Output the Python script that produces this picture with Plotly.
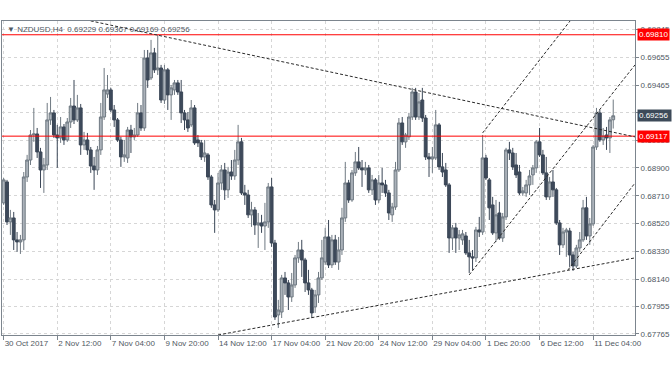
import plotly.graph_objects as go

# ---------------- data ----------------
symbol = "NZDUSD,H4"

open_ = [
    0.68661, 0.68804, 0.68531, 0.68558, 0.68408, 0.68394, 0.68408, 0.68838, 0.68954, 0.69125,
    0.69132, 0.69009, 0.68886, 0.68920, 0.69228, 0.69276, 0.69125, 0.69105, 0.69180, 0.69091,
    0.69214, 0.69323, 0.69228, 0.69310, 0.69057, 0.69091, 0.69023, 0.68913, 0.68886, 0.69023,
    0.69248, 0.69405, 0.69433, 0.69296, 0.69228, 0.69091, 0.68975, 0.68968, 0.69159, 0.69112,
    0.69125, 0.69276, 0.69173, 0.69651, 0.69515, 0.69686, 0.69570, 0.69583, 0.69364, 0.69570,
    0.69399, 0.69433, 0.69481, 0.69419, 0.69276, 0.69228, 0.69194, 0.69310, 0.69091, 0.69071,
    0.68975, 0.68989, 0.68838, 0.68647, 0.68613, 0.68797, 0.68886, 0.68750, 0.68872, 0.68845,
    0.68954, 0.69078, 0.68729, 0.68715, 0.68579, 0.68613, 0.68510, 0.68524, 0.68503, 0.68531,
    0.68770, 0.68387, 0.67895, 0.67915, 0.68148, 0.68114, 0.68018, 0.68100, 0.68285, 0.68339,
    0.68271, 0.68114, 0.68066, 0.67950, 0.68032, 0.68148, 0.68257, 0.68428, 0.68237, 0.68408,
    0.68257, 0.68339, 0.68558, 0.68797, 0.68681, 0.68866, 0.68941, 0.68900, 0.68886, 0.68900,
    0.68750, 0.68818, 0.68681, 0.68797, 0.68784, 0.68729, 0.68579, 0.68633, 0.68886, 0.69207,
    0.69078, 0.69112, 0.69248, 0.69419, 0.69248, 0.69364, 0.69241, 0.68975, 0.68961, 0.68968,
    0.69194, 0.68907, 0.68886, 0.68784, 0.68421, 0.68490, 0.68421, 0.68408, 0.68435, 0.68319,
    0.68292, 0.68285, 0.68476, 0.68462, 0.68968, 0.68818, 0.68647, 0.68456, 0.68592, 0.68421,
    0.68565, 0.69023, 0.69002, 0.68920, 0.68872, 0.68729, 0.68729, 0.68784, 0.68852, 0.68900,
    0.69078, 0.68989, 0.68866, 0.68702, 0.68804, 0.68750, 0.68524, 0.68374, 0.68462, 0.68469,
    0.68305, 0.68230, 0.68353, 0.68408, 0.68627, 0.68435, 0.68517, 0.69043, 0.69276, 0.69091,
    0.69125, 0.69105, 0.69229,
]

high_ = [
    0.68831, 0.68818, 0.68613, 0.68599, 0.68462, 0.68442, 0.68872, 0.68989, 0.69159, 0.69310,
    0.69173, 0.69037, 0.68968, 0.69344, 0.69385, 0.69296, 0.69194, 0.69248, 0.69200, 0.69241,
    0.69378, 0.69501, 0.69399, 0.69337, 0.69146, 0.69139, 0.69043, 0.68975, 0.69050, 0.69344,
    0.69583, 0.69535, 0.69447, 0.69330, 0.69241, 0.69112, 0.69091, 0.69180, 0.69194, 0.69173,
    0.69344, 0.69330, 0.69706, 0.69706, 0.69775, 0.69720, 0.69809, 0.69604, 0.69604, 0.69583,
    0.69467, 0.69501, 0.69501, 0.69501, 0.69296, 0.69282, 0.69364, 0.69330, 0.69125, 0.69091,
    0.69091, 0.69002, 0.68852, 0.68681, 0.68866, 0.68920, 0.68934, 0.68907, 0.68954, 0.69023,
    0.69194, 0.69105, 0.68784, 0.68750, 0.68668, 0.68633, 0.68592, 0.68579, 0.68661, 0.68797,
    0.68831, 0.68408, 0.67998, 0.68169, 0.68189, 0.68134, 0.68182, 0.68305, 0.68394, 0.68408,
    0.68285, 0.68203, 0.68080, 0.68066, 0.68189, 0.68408, 0.68490, 0.68544, 0.68442, 0.68442,
    0.68428, 0.68627, 0.68941, 0.68818, 0.68886, 0.69009, 0.69043, 0.68954, 0.68941, 0.68920,
    0.68852, 0.68831, 0.68852, 0.68900, 0.68818, 0.68750, 0.68661, 0.68941, 0.69241, 0.69248,
    0.69139, 0.69276, 0.69447, 0.69447, 0.69412, 0.69447, 0.69262, 0.69002, 0.69043, 0.69296,
    0.69207, 0.69002, 0.68934, 0.68797, 0.68510, 0.68524, 0.68476, 0.68476, 0.68462, 0.68408,
    0.68339, 0.68497, 0.68565, 0.69125, 0.68989, 0.68831, 0.68702, 0.68681, 0.68668, 0.68592,
    0.69037, 0.69078, 0.69037, 0.69002, 0.68920, 0.68770, 0.68818, 0.68886, 0.68920, 0.69091,
    0.69173, 0.69023, 0.68975, 0.68838, 0.68886, 0.68763, 0.68544, 0.68490, 0.68490, 0.68490,
    0.68326, 0.68374, 0.68462, 0.68681, 0.68702, 0.68558, 0.69057, 0.69310, 0.69296, 0.69173,
    0.69180, 0.69248, 0.69367,
]

low_ = [
    0.68647, 0.68510, 0.68442, 0.68339, 0.68326, 0.68312, 0.68339, 0.68804, 0.68920, 0.69078,
    0.68968, 0.68763, 0.68729, 0.68886, 0.69194, 0.69105, 0.68900, 0.69071, 0.69057, 0.69078,
    0.69173, 0.69200, 0.69214, 0.68989, 0.69023, 0.68989, 0.68866, 0.68750, 0.68852, 0.68989,
    0.69228, 0.69378, 0.69282, 0.69180, 0.69078, 0.68907, 0.68941, 0.68934, 0.69002, 0.69091,
    0.69112, 0.69153, 0.69153, 0.69447, 0.69501, 0.69549, 0.69535, 0.69344, 0.69337, 0.69296,
    0.69228, 0.69399, 0.69399, 0.69207, 0.69159, 0.69146, 0.69180, 0.69057, 0.69043, 0.68954,
    0.68941, 0.68818, 0.68627, 0.68456, 0.68599, 0.68750, 0.68681, 0.68695, 0.68818, 0.68818,
    0.68920, 0.68715, 0.68647, 0.68558, 0.68497, 0.68442, 0.68353, 0.68456, 0.68339, 0.68490,
    0.68360, 0.67861, 0.67806, 0.67874, 0.68032, 0.67929, 0.67984, 0.68080, 0.68251, 0.68155,
    0.68052, 0.68032, 0.67874, 0.67909, 0.67977, 0.68134, 0.68237, 0.68216, 0.68216, 0.68237,
    0.68203, 0.68305, 0.68531, 0.68661, 0.68668, 0.68845, 0.68886, 0.68770, 0.68852, 0.68729,
    0.68715, 0.68647, 0.68661, 0.68729, 0.68702, 0.68544, 0.68531, 0.68613, 0.68872, 0.69057,
    0.69037, 0.69091, 0.69228, 0.69228, 0.69228, 0.69214, 0.68954, 0.68838, 0.68866, 0.68954,
    0.68886, 0.68838, 0.68770, 0.68319, 0.68339, 0.68319, 0.68339, 0.68374, 0.68305, 0.68182,
    0.68203, 0.68257, 0.68428, 0.68442, 0.68818, 0.68544, 0.68442, 0.68394, 0.68408, 0.68394,
    0.68544, 0.68954, 0.68886, 0.68831, 0.68715, 0.68709, 0.68702, 0.68715, 0.68784, 0.68866,
    0.68975, 0.68852, 0.68681, 0.68681, 0.68702, 0.68510, 0.68305, 0.68353, 0.68292, 0.68223,
    0.68196, 0.68216, 0.68326, 0.68394, 0.68408, 0.68374, 0.68503, 0.69023, 0.69078, 0.69057,
    0.69023, 0.69002, 0.69169,
]

close_ = [
    0.68818, 0.68531, 0.68558, 0.68408, 0.68394, 0.68408, 0.68838, 0.68954, 0.69125, 0.69132,
    0.69009, 0.68886, 0.68920, 0.69228, 0.69276, 0.69125, 0.69105, 0.69180, 0.69091, 0.69214,
    0.69323, 0.69228, 0.69310, 0.69057, 0.69091, 0.69023, 0.68913, 0.68886, 0.69023, 0.69248,
    0.69433, 0.69433, 0.69296, 0.69228, 0.69091, 0.68975, 0.68989, 0.69159, 0.69112, 0.69125,
    0.69276, 0.69173, 0.69651, 0.69501, 0.69686, 0.69570, 0.69583, 0.69364, 0.69570, 0.69399,
    0.69447, 0.69481, 0.69419, 0.69276, 0.69228, 0.69173, 0.69310, 0.69071, 0.69071, 0.68975,
    0.69002, 0.68838, 0.68647, 0.68613, 0.68797, 0.68886, 0.68750, 0.68872, 0.68845, 0.68954,
    0.69078, 0.68729, 0.68715, 0.68579, 0.68613, 0.68510, 0.68524, 0.68503, 0.68531, 0.68770,
    0.68387, 0.67881, 0.67929, 0.68148, 0.68114, 0.68018, 0.68100, 0.68285, 0.68339, 0.68271,
    0.68114, 0.68066, 0.67909, 0.68032, 0.68148, 0.68285, 0.68428, 0.68237, 0.68408, 0.68257,
    0.68339, 0.68558, 0.68797, 0.68681, 0.68866, 0.68941, 0.68900, 0.68886, 0.68900, 0.68750,
    0.68818, 0.68681, 0.68797, 0.68784, 0.68729, 0.68592, 0.68633, 0.68886, 0.69207, 0.69078,
    0.69125, 0.69248, 0.69419, 0.69248, 0.69351, 0.69241, 0.68975, 0.68961, 0.68975, 0.69194,
    0.68907, 0.68872, 0.68784, 0.68421, 0.68490, 0.68421, 0.68442, 0.68449, 0.68319, 0.68292,
    0.68285, 0.68476, 0.68462, 0.68968, 0.68831, 0.68627, 0.68456, 0.68579, 0.68421, 0.68565,
    0.69023, 0.69002, 0.68907, 0.68852, 0.68729, 0.68743, 0.68784, 0.68845, 0.68900, 0.69078,
    0.68989, 0.68866, 0.68702, 0.68804, 0.68750, 0.68524, 0.68374, 0.68462, 0.68476, 0.68305,
    0.68230, 0.68353, 0.68408, 0.68627, 0.68435, 0.68517, 0.69043, 0.69276, 0.69091, 0.69118,
    0.69105, 0.69228, 0.69256,
]

# time-axis labels, one every 16 H4 bars
time_labels = ["30 Oct 2017", "2 Nov 12:00", "7 Nov 04:00", "9 Nov 20:00", "14 Nov 12:00",
               "17 Nov 04:00", "21 Nov 20:00", "24 Nov 12:00", "29 Nov 04:00", "1 Dec 20:00",
               "6 Dec 12:00", "11 Dec 04:00"]
bars_per_label = 16

# price-axis ticks
price_ticks = [0.67765, 0.67955, 0.68140, 0.68330, 0.68520, 0.68710, 0.68900,
               0.69090, 0.69280, 0.69465, 0.69655, 0.69845]

# horizontal levels (red) and drawn trend lines (bar index, price)
levels = [0.69810, 0.69117]
trend_lines = [
    ((24.5, 0.69912), (188.5, 0.69112)),
    ((64.0, 0.67758), (188.5, 0.68285)),
    ((139.0, 0.68169), (188.5, 0.69604)),
    ((143.0, 0.69139), (169.1, 0.69904)),
    ((168.5, 0.68203), (188.5, 0.68797)),
]

x_range = [-0.5, 188.5]
y_range = [0.67758, 0.69904]

# ---------------- figure ----------------
FONT = "Liberation Sans, Arial, sans-serif"
AXIS_COL = "#7c858e"
TXT_COL = "#4f5862"

idx = list(range(len(close_)))

fig = go.Figure(go.Candlestick(
    x=idx, open=open_, high=high_, low=low_, close=close_,
    increasing=dict(line=dict(color="#6f7982", width=1), fillcolor="#abb2ba"),
    decreasing=dict(line=dict(color="#3a4656", width=1), fillcolor="#3e4a5b"),
    whiskerwidth=0, hoverinfo="skip", showlegend=False,
))

tickvals_x = [i * bars_per_label for i in range(len(time_labels))]

fig.update_layout(
    width=672, height=372,
    margin=dict(l=2, r=37, t=21, b=37, autoexpand=False),
    paper_bgcolor="white", plot_bgcolor="white",
    font=dict(family=FONT, size=8, color=TXT_COL),
    showlegend=False,
    boxgap=0.15, boxgroupgap=0,
    xaxis=dict(
        range=x_range, rangeslider=dict(visible=False),
        tickvals=tickvals_x, ticktext=time_labels, tickangle=0,
        ticks="outside", ticklen=4, tickcolor=AXIS_COL,
        ticklabelposition="outside right", automargin=False,
        tickfont=dict(size=8, color=TXT_COL, family=FONT),
        showline=True, mirror=True, linecolor=AXIS_COL, linewidth=1,
        showgrid=True, gridcolor="#d6d6d6", griddash="dot", gridwidth=1,
        zeroline=False, fixedrange=True,
    ),
    yaxis=dict(
        side="right", range=y_range, automargin=False,
        tickvals=price_ticks, ticktext=[f"{v:.5f}" for v in price_ticks],
        ticks="outside", ticklen=3, tickcolor=AXIS_COL,
        tickfont=dict(size=8, color=TXT_COL, family=FONT),
        showline=True, mirror=True, linecolor=AXIS_COL, linewidth=1,
        showgrid=True, gridcolor="#d6d6d6", griddash="dot", gridwidth=1,
        zeroline=False, fixedrange=True,
    ),
)

shapes = []
for lv in levels:
    shapes.append(dict(type="line", xref="paper", x0=0, x1=1, yref="y", y0=lv, y1=lv,
                       line=dict(color="#ff0000", width=1), layer="above"))
for (a, b) in trend_lines:
    shapes.append(dict(type="line", xref="x", yref="y", x0=a[0], y0=a[1], x1=b[0], y1=b[1],
                       line=dict(color="#2a2a2a", width=1, dash="3px,2px"), layer="above"))
fig.update_layout(shapes=shapes)

annotations = []
for lv in levels:
    annotations.append(dict(xref="paper", x=1, xanchor="left", xshift=2,
                            yref="y", y=lv, yanchor="middle", showarrow=False,
                            text=f"{lv:.5f}", bgcolor="#ff0000", borderpad=1,
                            font=dict(color="white", size=8, family=FONT)))
annotations.append(dict(xref="paper", x=1, xanchor="left", xshift=2,
                        yref="y", y=close_[-1], yanchor="middle", showarrow=False,
                        text=f"{close_[-1]:.5f}\u00a0", bgcolor="#3d4a59", borderpad=1,
                        font=dict(color="white", size=8, family=FONT)))
title_txt = ("\u25BC\u00a0" + symbol + "\u00a0\u00a0" +
             " ".join(f"{v:.5f}" for v in (open_[-1], high_[-1], low_[-1], close_[-1])))
annotations.append(dict(xref="paper", x=0, xanchor="left", xshift=3,
                        yref="paper", y=1, yanchor="top", yshift=-2, showarrow=False,
                        text=title_txt, font=dict(color=TXT_COL, size=8, family=FONT)))
fig.update_layout(annotations=annotations)

fig.write_html(
    "out.html",
    config={"displayModeBar": False, "staticPlot": True},
    post_script="document.body.style.margin='0';document.body.style.padding='0';",
)
